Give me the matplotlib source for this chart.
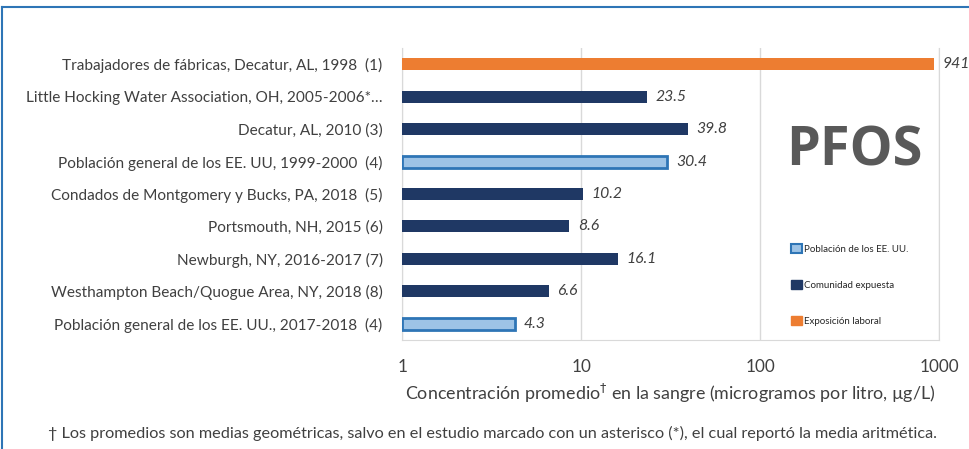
import matplotlib.pyplot as plt
from matplotlib.patches import Patch
from matplotlib.lines import Line2D

plt.rcParams['font.family'] = ['Lato', 'DejaVu Sans']

labels = [
    'Trabajadores de fábricas, Decatur, AL, 1998  (1)',
    'Little Hocking Water Association, OH, 2005-2006*…',
    'Decatur, AL, 2010 (3)',
    'Población general de los EE. UU, 1999-2000  (4)',
    'Condados de Montgomery y Bucks, PA, 2018  (5)',
    'Portsmouth, NH, 2015 (6)',
    'Newburgh, NY, 2016-2017 (7)',
    'Westhampton Beach/Quogue Area, NY, 2018 (8)',
    'Población general de los EE. UU., 2017-2018  (4)',
]
values = [941, 23.5, 39.8, 30.4, 10.2, 8.6, 16.1, 6.6, 4.3]
groups = ['lab', 'com', 'com', 'pop', 'com', 'com', 'com', 'com', 'pop']
value_text = ['941', '23.5', '39.8', '30.4', '10.2', '8.6', '16.1', '6.6', '4.3']

fill = {'lab': '#ED7D31', 'com': '#1F3864', 'pop': '#9DC3E6'}
edge = {'lab': '#ED7D31', 'com': '#1F3864', 'pop': '#2E75B6'}
txt = '#404040'

fig = plt.figure(figsize=(9.69, 4.49), dpi=100)
ax = fig.add_axes([0.415, 0.243, 0.554, 0.65])

y = list(range(len(labels)))
for i, (v, g) in enumerate(zip(values, groups)):
    lw = 2 if g == 'pop' else 0
    ax.barh(i, v - 1, left=1, height=0.37, color=fill[g], edgecolor=edge[g], linewidth=lw, zorder=3)
    ax.annotate(value_text[i], (v, i), xytext=(6, 0), textcoords='offset points',
                va='center', ha='left', style='italic', fontsize=11.3, color=txt)

ax.set_xscale('log')
ax.set_xlim(1, 1000)
ax.set_ylim(len(labels) - 0.5, -0.5)
ax.set_yticks(y)
ax.set_yticklabels(labels, fontsize=11.1, color=txt)
ax.set_xticks([1, 10, 100, 1000])
ax.set_xticklabels(['1', '10', '100', '1000'], fontsize=12.3, color=txt)
ax.minorticks_off()
ax.tick_params(axis='y', length=0, pad=14)
ax.tick_params(axis='x', length=0, pad=14)
ax.grid(axis='x', color='#D9D9D9', linewidth=1, zorder=0)
ax.spines['top'].set_visible(False)
for s in ['left', 'right', 'bottom']:
    ax.spines[s].set_color('#D9D9D9')

ax.set_xlabel('Concentración promedio$^{\\dagger}$ en la sangre (microgramos por litro, µg/L)',
              fontsize=12.9, color=txt, labelpad=5)

ax.text(0.842, 0.645, 'PFOS', transform=ax.transAxes, ha='center', va='center',
        fontsize=39, fontweight='bold', color='#595959', family='Open Sans')

handles = [
    Patch(facecolor=fill['pop'], edgecolor=edge['pop'], linewidth=1.5, label='Población de los EE. UU.'),
    Patch(facecolor=fill['com'], edgecolor=fill['com'], label='Comunidad expuesta'),
    Patch(facecolor=fill['lab'], edgecolor=fill['lab'], label='Exposición laboral'),
]
leg = ax.legend(handles=handles, loc='upper left', bbox_to_anchor=(0.708, 0.36), frameon=False,
                fontsize=7, handlelength=1.1, handleheight=1.1, handletextpad=0.25,
                labelspacing=2.7)
for t in leg.get_texts():
    t.set_color('#262626')

fig.text(0.508, 0.035, '† Los promedios son medias geométricas, salvo en el estudio marcado con un asterisco (*), el cual reportó la media aritmética.',
         ha='center', va='center', fontsize=11.7, color=txt)

# blue frame around the figure
fig.add_artist(Line2D([0.002, 1.0], [0.985, 0.985], color='#2E75B6', linewidth=1.5))
fig.add_artist(Line2D([0.002, 0.002], [0.0, 0.985], color='#2E75B6', linewidth=1.5))

fig.savefig('out.png', dpi=100)
